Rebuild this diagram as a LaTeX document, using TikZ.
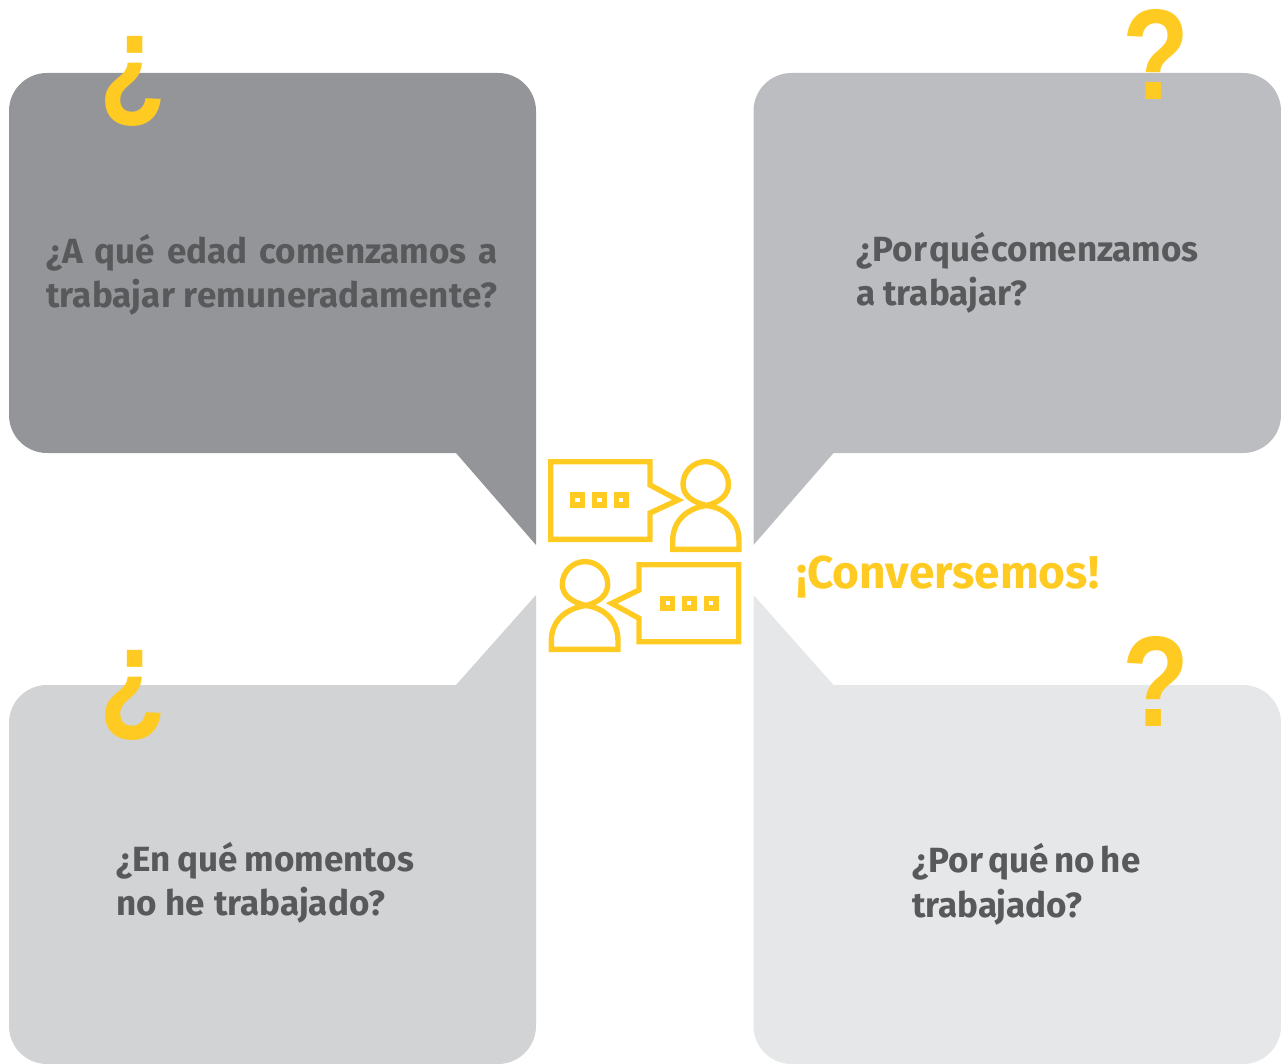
\documentclass[tikz,border=0pt]{standalone}
\usepackage{fontspec}
\setmainfont{Fira Sans}
\newfontfamily\markfont{Liberation Sans}
\definecolor{ytxt}{HTML}{FFCB22}
\definecolor{gtxt}{HTML}{58595B}
\definecolor{boxa}{HTML}{939598}
\definecolor{boxb}{HTML}{BCBDC0}
\definecolor{boxc}{HTML}{D1D3D4}
\definecolor{boxd}{HTML}{E6E7E8}
\tikzset{
  x=1pt,y=-1pt,
  question/.style={anchor=north west,inner sep=0pt,outer sep=0pt,align=left,text=gtxt,font=\fontsize{35}{44}\selectfont\bfseries},
  bigmark/.style={inner sep=0pt,outer sep=0pt,anchor=base,text=ytxt,xscale=0.85,font=\fontsize{129}{129}\selectfont\markfont\bfseries},
  icon/.style={draw=ytxt,line width=5.4pt,miter limit=10},
  person/.style={draw=ytxt,line width=5.4pt,line join=round},
  dotbox/.style={draw=ytxt,line width=5.5pt}
}
\begin{document}
\begin{tikzpicture}
\useasboundingbox (0,0) rectangle (1281,1064);
% bubbles
\fill[boxa] (456,453) -- (47,453) .. controls (26,453) and (9,436) .. (9,415) -- (9,111) .. controls (9,90) and (26,73) .. (47,73) -- (498,73) .. controls (519,73) and (536,90) .. (536,111) -- (536,545) -- cycle;
\fill[boxb] (833.5,453) -- (1243,453) .. controls (1264,453) and (1281,436) .. (1281,415) -- (1281,111) .. controls (1281,90) and (1264,73) .. (1243,73) -- (791.5,73) .. controls (770.5,73) and (753.5,90) .. (753.5,111) -- (753.5,545) -- cycle;
\fill[boxc] (456,685) -- (47,685) .. controls (26,685) and (9,702) .. (9,723) -- (9,1026) .. controls (9,1047) and (26,1064) .. (47,1064) -- (498,1064) .. controls (519,1064) and (536,1047) .. (536,1026) -- (536,595) -- cycle;
\fill[boxd] (833.5,685) -- (1243,685) .. controls (1264,685) and (1281,702) .. (1281,723) -- (1281,1026) .. controls (1281,1047) and (1264,1064) .. (1243,1064) -- (791.5,1064) .. controls (770.5,1064) and (753.5,1047) .. (753.5,1026) -- (753.5,595) -- cycle;
% big marks
\node[bigmark] (m1) at (133,105) {¿};
\node[bigmark] (m2) at (1156,100) {?};
\node[bigmark] (m3) at (133,718) {¿};
\node[bigmark] (m4) at (1156,726) {?};
% questions
\node[question] (q1) at (46,234) {\makebox[452pt][s]{¿A qué edad comenzamos a}\\{\addfontfeature{LetterSpace=0.6}trabajar remuneradamente?}};
\node[question] (q2) at (856,232) {\makebox[344pt][s]{¿Por\kern2pt qué\kern2pt comenzamos}\\a trabajar?};
\node[question] (q3) at (116,842) {\makebox[298pt][s]{¿En qué momentos}\\\makebox[269pt][s]{no he trabajado?}};
\node[question] (q4) at (912,843) {\makebox[228pt][s]{¿Por qué no he}\\[1pt]\makebox[172pt][s]{trabajado?}};
\node[inner sep=0pt,anchor=base west,text=ytxt,font=\fontsize{46}{50}\selectfont\bfseries] (title) at (796,588) {¡Conversemos!};
% icon upper
\draw[icon] (550.7,461.7) -- (650,461.7) -- (650,485) -- (678,500) -- (650,513) -- (650,539.3) -- (550.7,539.3) -- cycle;
\draw[person] (706.5,505.5) .. controls (692,502) and (683,495) .. (683,484.3) .. controls (683,471.8) and (693.2,461.6) .. (705.7,461.6) .. controls (718.2,461.6) and (728.4,471.8) .. (728.4,484.3) .. controls (728.4,495) and (720,502) .. (706.5,505.5);
\draw[icon] (706.5,505.5) .. controls (688,508) and (672.7,520) .. (672.7,541) -- (672.7,549.3) -- (739,549.3) -- (739,541) .. controls (739,520) and (725,508) .. (706.5,505.5) -- cycle;
\draw[dotbox] (572.7,495.2) rectangle (582.3,504.8);
\draw[dotbox] (594.7,495.2) rectangle (604.3,504.8);
\draw[dotbox] (616.5,495.2) rectangle (626.1,504.8);
% icon lower
\draw[icon] (738.7,564.7) -- (639,564.7) -- (639,590) -- (611.7,603.3) -- (639,618.3) -- (639,641.7) -- (738.7,641.7) -- cycle;
\draw[person] (586,605.5) .. controls (571.3,602) and (562.3,595) .. (562.3,584.3) .. controls (562.3,571.8) and (572.5,561.6) .. (585,561.6) .. controls (597.5,561.6) and (607.7,571.8) .. (607.7,584.3) .. controls (607.7,595) and (599.3,602) .. (586,605.5);
\draw[icon] (586,605.5) .. controls (567,608) and (551.3,620) .. (551.3,641) -- (551.3,649.3) -- (618,649.3) -- (618,641) .. controls (618,620) and (604,608) .. (586,605.5) -- cycle;
\draw[dotbox] (662.9,598.5) rectangle (672.5,608.1);
\draw[dotbox] (684.5,598.5) rectangle (694.1,608.1);
\draw[dotbox] (706.5,598.5) rectangle (716.1,608.1);
\end{tikzpicture}
\end{document}
